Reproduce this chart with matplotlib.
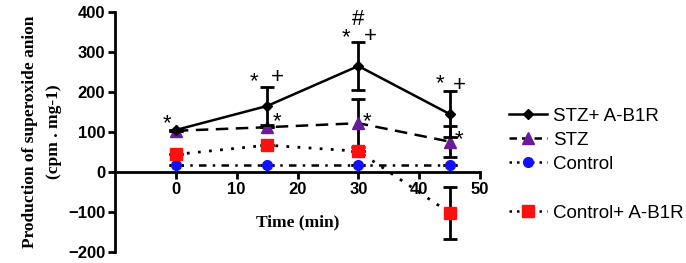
import matplotlib
matplotlib.use("Agg")
import matplotlib.pyplot as plt
from matplotlib.lines import Line2D

time = [0, 15, 30, 45]
stz_ab1r = [105, 165, 265, 145]
stz_ab1r_err = [0, 48, 60, 57]
stz = [103, 112, 122, 76]
stz_err = [0, 0, 60, 38]
control = [18, 18, 18, 18]
control_err = [0, 0, 0, 0]
ctrl_ab1r = [44, 67, 52, -102]
ctrl_ab1r_err = [0, 0, 0, 65]

labels = ["STZ+ A-B1R", "STZ", "Control", "Control+ A-B1R"]
yticks = [-200, -100, 0, 100, 200, 300, 400]
xticks = [0, 10, 20, 30, 40, 50]

fig = plt.figure(figsize=(6.86, 2.63), dpi=100)
ax = fig.add_axes([115/686, 11/263, 365/686, 240/263])

ecap = dict(capsize=5, elinewidth=2, capthick=2, ecolor="black")
ax.errorbar(time, stz_ab1r, yerr=stz_ab1r_err, color="black", ls="-", lw=1.8,
            marker="D", ms=5, mfc="black", mec="black", zorder=4, **ecap)
ax.errorbar(time, stz, yerr=stz_err, color="black", ls=(0, (5, 3)), lw=1.8,
            marker="^", ms=8, mfc="#6a1b9a", mec="#6a1b9a", zorder=3, **ecap)
ax.errorbar(time, control, yerr=control_err, color="black", ls=(0, (3, 2.5, 1, 2.5)), lw=1.8,
            marker="o", ms=7, mfc="#1010ff", mec="#1010ff", zorder=3, **ecap)
ax.errorbar(time, ctrl_ab1r, yerr=ctrl_ab1r_err, color="black", ls=(0, (1, 3)), lw=2,
            marker="s", ms=8, mfc="#ff1010", mec="#ff1010", zorder=3, **ecap)

ax.set_xlim(-10, 50)
ax.set_ylim(-200, 400)
ax.spines["top"].set_visible(False)
ax.spines["right"].set_visible(False)
ax.spines["bottom"].set_position(("data", 0))
ax.spines["left"].set_linewidth(2)
ax.spines["bottom"].set_linewidth(2)
ax.set_xticks(xticks)
ax.set_yticks(yticks)
ax.tick_params(axis="both", width=2, length=5, direction="out", labelsize=12, pad=2)
for lab in ax.get_xticklabels() + ax.get_yticklabels():
    lab.set_fontweight("bold")
    lab.set_family("Liberation Sans")

ax.text(20, -125, "Time (min)", ha="center", va="center", fontsize=12.5,
        fontweight="bold", family="Liberation Serif")
fig.text(30/686, 0.5, "Production of superoxide anion", rotation=90, ha="center",
         va="center", fontsize=12.5, fontweight="bold", family="Liberation Serif")
fig.text(54/686, 0.5, "(cpm . mg-1)", rotation=90, ha="center",
         va="center", fontsize=12.5, fontweight="bold", family="Liberation Serif")

afont = dict(ha="center", va="center", family="Liberation Sans")
for x, y, s in [(-1.5, 122, "*"), (12.9, 225, "*"), (27.9, 335, "*"),
                (43.5, 220, "*"), (16.7, 127, "*"), (31.4, 127, "*"), (46.6, 82, "*")]:
    ax.text(x, y, s, fontsize=16, **afont)
for x, y, s in [(16.7, 237, "+"), (32, 340, "+"), (46.6, 217, "+"), (29.9, 382, "#")]:
    ax.text(x, y, s, fontsize=16, **afont)

handles = [
    Line2D([], [], color="black", ls="-", lw=1.8, marker="D", ms=5, mfc="black", mec="black"),
    Line2D([], [], color="black", ls=(0, (3, 2)), lw=1.8, marker="^", ms=8, mfc="#6a1b9a", mec="#6a1b9a"),
    Line2D([], [], color="black", ls=(0, (1, 2)), lw=1.8, marker="o", ms=7, mfc="#1010ff", mec="#1010ff"),
    Line2D([], [], color="none"),
    Line2D([], [], color="black", ls=(0, (1, 2)), lw=1.8, marker="s", ms=8, mfc="#ff1010", mec="#ff1010"),
]
leg_labels = [labels[0], labels[1], labels[2], " ", labels[3]]
fig.legend(handles, leg_labels, loc="upper left", bbox_to_anchor=(500/686, 1 - 98/263),
           frameon=False, prop=dict(family="Liberation Sans", size=13.5),
           handlelength=2.0, handletextpad=0.35, labelspacing=0.38, borderpad=0)

fig.savefig("out.png", dpi=100)
